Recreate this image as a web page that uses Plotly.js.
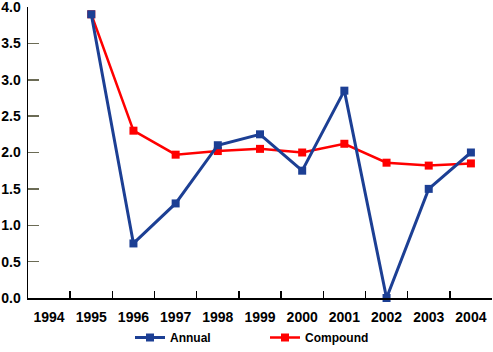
<!DOCTYPE html>
<html><head><meta charset="utf-8">
<script src="https://cdn.plot.ly/plotly-3.0.1.min.js"></script>
<style>body{margin:0;background:#fff}#c{width:493px;height:352px}</style>
</head><body><div id="c"></div>
<script>
const years = ['1994','1995','1996','1997','1998','1999','2000','2001','2002','2003','2004'];
const dataYears = ['1995','1996','1997','1998','1999','2000','2001','2002','2003','2004'];
const annual = [3.9, 0.75, 1.3, 2.1, 2.25, 1.75, 2.85, 0.0, 1.5, 2.0];
const compound = [3.9, 2.3, 1.97, 2.02, 2.05, 2.0, 2.12, 1.86, 1.82, 1.85];
const yTicks = [0, 0.5, 1, 1.5, 2, 2.5, 3, 3.5, 4];

const font = {family: '"Liberation Sans", Arial, sans-serif', size: 14, color: '#000', weight: 'bold'};
const traces = [
  {x: dataYears, y: compound, name: 'Compound', mode: 'lines+markers', type: 'scatter',
   line: {color: '#ff0000', width: 2.5}, marker: {symbol: 'square', size: 8, color: '#ff0000'}, cliponaxis: false},
  {x: dataYears, y: annual, name: 'Annual', mode: 'lines+markers', type: 'scatter',
   line: {color: '#1c3f94', width: 3}, marker: {symbol: 'square', size: 8, color: '#1c3f94'}, cliponaxis: false}
];
const layout = {
  width: 493, height: 352,
  margin: {l: 28, r: 1, t: 7, b: 54},
  paper_bgcolor: '#fff', plot_bgcolor: '#fff',
  font: font,
  showlegend: true,
  legend: {orientation: 'h', xref: 'container', yref: 'container', x: 130/493, xanchor: 'left', y: 0.0, yanchor: 'bottom',
           traceorder: 'reversed',
           font: {family: font.family, size: 12, weight: 'bold', color: '#000'}, entrywidth: 90, entrywidthmode: 'pixels'},
  xaxis: {type: 'category', categoryorder: 'array', categoryarray: years, range: [-0.5, 10.5],
          tickson: 'boundaries', ticks: 'inside', ticklen: 7, tickcolor: '#000', tickwidth: 1.5,
          showline: true, linecolor: '#000', linewidth: 1.5, showgrid: false, zeroline: false,
          tickfont: font, ticklabelstandoff: 6, ticklabeloverflow: 'allow'},
  yaxis: {range: [0, 4], tickvals: yTicks, ticktext: yTicks.map(v => v.toFixed(1)),
          ticks: 'inside', ticklen: 11, tickcolor: '#6b6b55', tickwidth: 1.5,
          showline: true, linecolor: '#000', linewidth: 1.5, showgrid: false, zeroline: false,
          tickfont: font, ticklabelstandoff: 3, ticklabeloverflow: 'allow'}
};
Plotly.newPlot('c', traces, layout, {displayModeBar: false, staticPlot: true});
</script></body></html>
